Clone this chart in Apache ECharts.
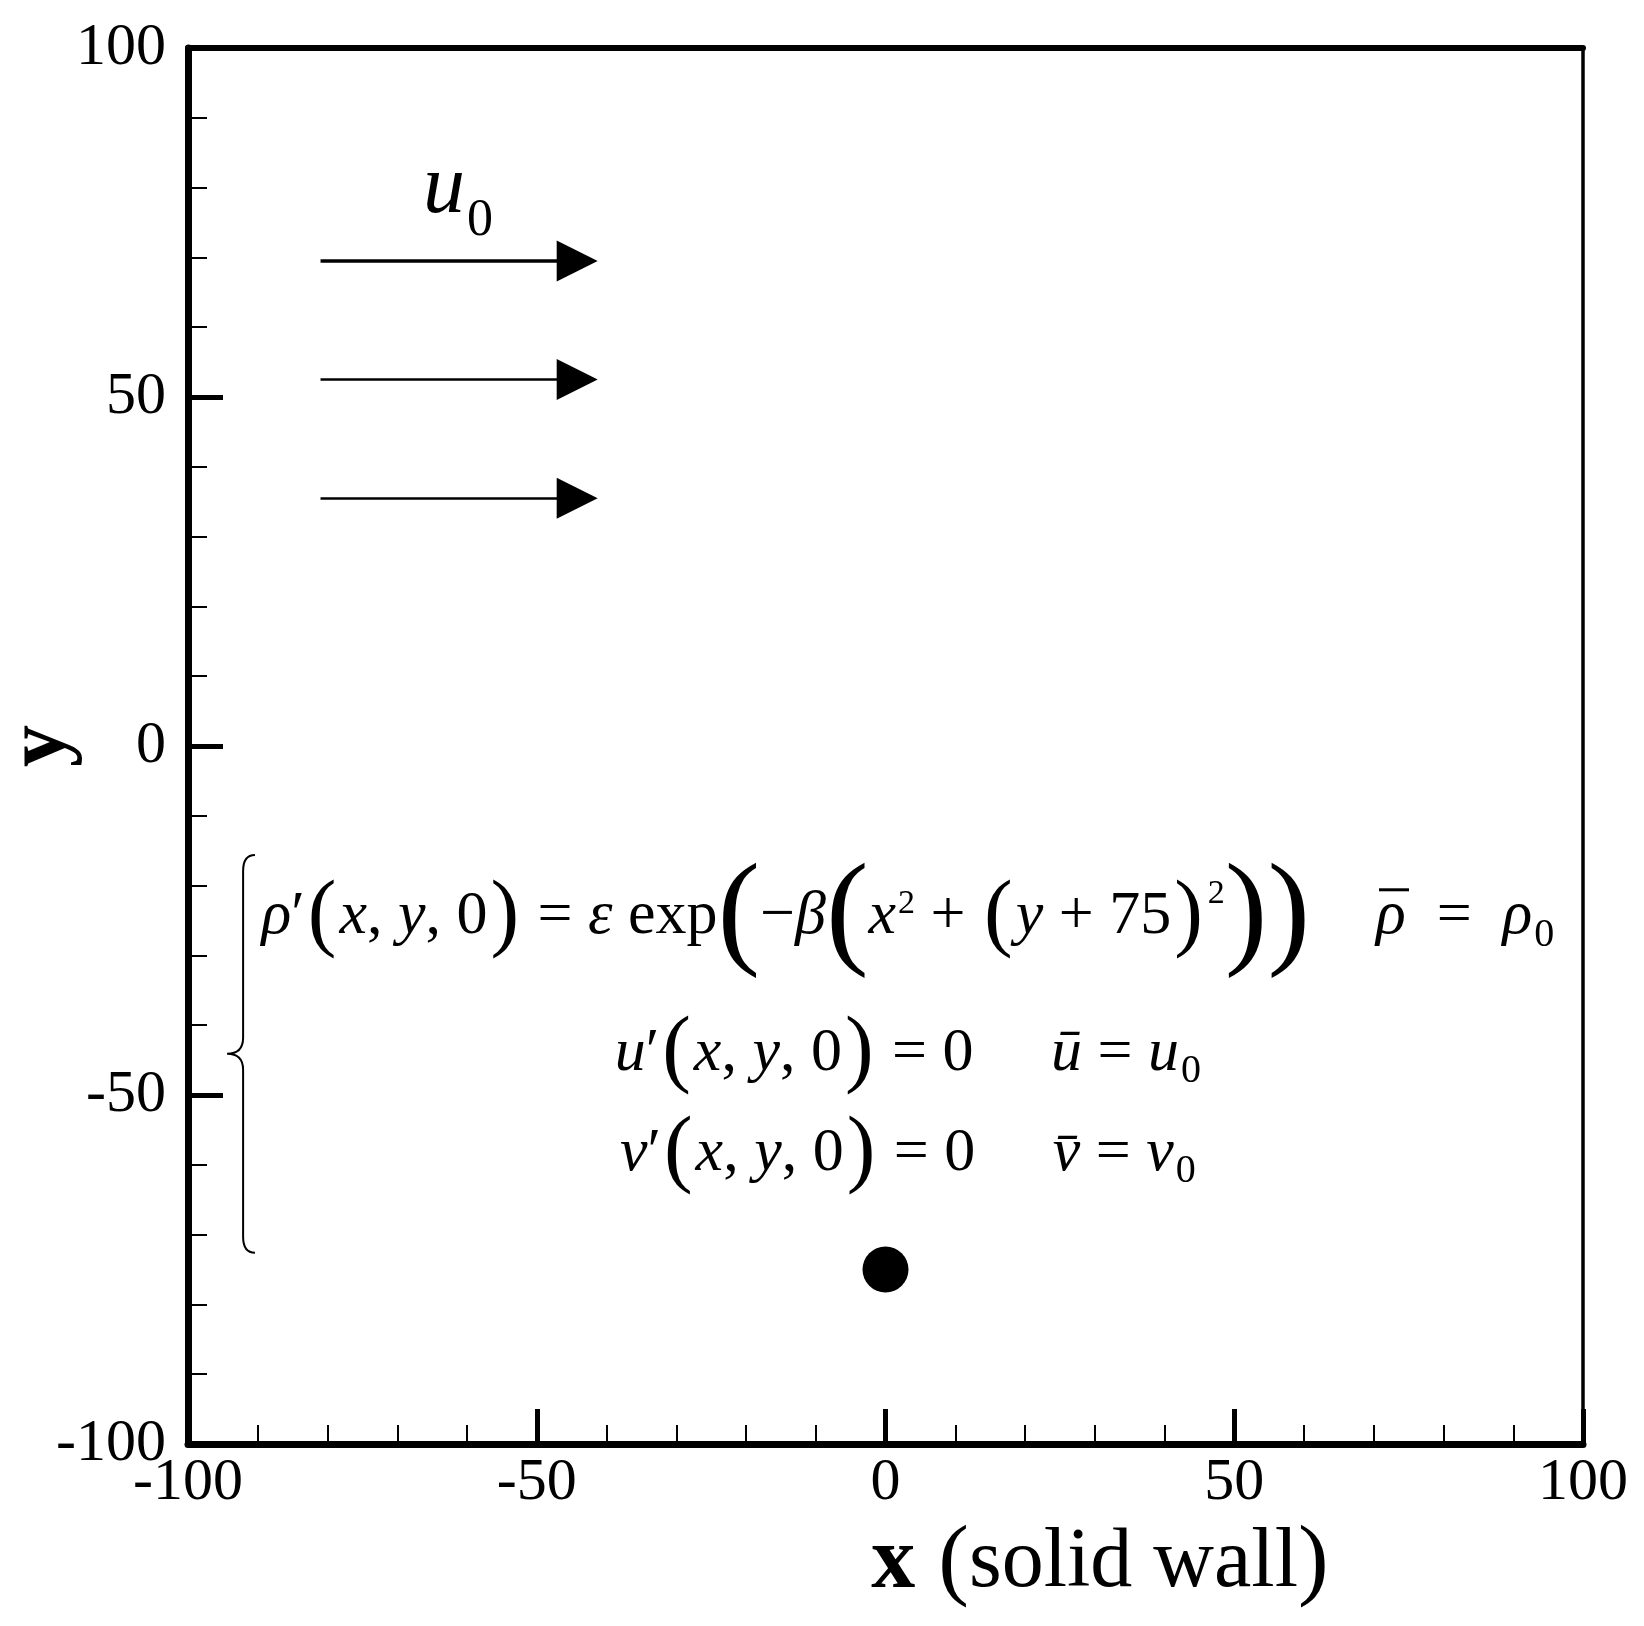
<!DOCTYPE html>
<html>
<head>
<meta charset="utf-8">
<title>Initial condition sketch</title>
<script src="https://cdn.jsdelivr.net/npm/echarts@6/dist/echarts.min.js"></script>
<style>
  html, body { margin: 0; padding: 0; background: #fff; }
  #chartsDiv { width: 1644px; height: 1626px; }
</style>
</head>
<body>
<div id="chartsDiv"></div>
<script>
// axis range
var axisMin = -100;
var axisMax = 100;
var majorStep = 50;
var minorSplit = 5;

// mean flow arrows: rows (y) and start / end (x)
var arrowRows = [69.5, 52.5, 35.5];
var arrowStartX = -81;
var arrowEndX = -44.2;

// pulse centre
var pulseCentre = [[0, -75]];

// brace: spine x, top y, bottom y, middle y, tip x, cusp x
var braceData = [[-92.1, -15.6, -72.6, -44.1, -90.4, -94.4]];

// text anchors (x, y) and their texts
var labelPoints = [
  [-61.3, 79.7],
  [-14.3, -24.5],
  [83.1, -24.5],
  [72.9, -20.6],
  [3.2, -44.1],
  [3.2, -58.4]
];
var labelTexts = [
  '{u|u}{s0|0}',
  '{i|\u03C1}{n|\u2032}{pa|(}{i|x}{n|, }{i|y}{n|, 0}{pa|)}{n| = }{i|\u03B5}{n| exp}{pb|(}{n|\u2212}{i|\u03B2}{pb|(}{i|x}{sa|2}{n| + }{pa|(}{i|y}{n| + 75}{pa|)}{sb|2}{pb|))}',
  '{i|\u03C1}{n|  =  }{i|\u03C1}{sub|0}',
  '{bar|}',
  '{i|u}{n|\u2032}{pa|(}{i|x}{n|, }{i|y}{n|, 0}{pa|)}{n| = 0     }{i|u\u0304}{n| = }{i|u}{sub|0}',
  '{i|v}{n|\u2032}{pa|(}{i|x}{n|, }{i|y}{n|, 0}{pa|)}{n| = 0     }{i|v\u0304}{n| = }{i|v}{sub|0}'
];

var serif = 'Liberation Serif';
var F = 62;

var richStyles = {
  i: { fontFamily: serif, fontStyle: 'italic', fontSize: F, color: '#000' },
  n: { fontFamily: serif, fontSize: F, color: '#000' },
  pa: { fontFamily: serif, fontSize: 86, color: '#000', padding: [0, 3, 0, 3] },
  pb: { fontFamily: serif, fontSize: 128, color: '#000' },
  sa: { fontFamily: serif, fontSize: 34, color: '#000', padding: [0, 0, 26, 2] },
  sb: { fontFamily: serif, fontSize: 34, color: '#000', padding: [0, 0, 46, 2] },
  sub: { fontFamily: serif, fontSize: 40, color: '#000', padding: [36, 0, 0, 2] },
  u: { fontFamily: serif, fontStyle: 'italic', fontSize: 84, color: '#000' },
  s0: { fontFamily: serif, fontSize: 52, color: '#000', padding: [64, 0, 0, 2] },
  bar: { width: 30, height: 3, backgroundColor: '#000' }
};

var chart = echarts.init(document.getElementById('chartsDiv'));

var option = {
  animation: false,
  backgroundColor: '#fff',
  textStyle: { fontFamily: serif, color: '#000' },
  grid: {
    left: 188,
    right: 61,
    top: 48,
    bottom: 182,
    outerBoundsMode: 'none'
  },
  xAxis: [{
    type: 'value',
    min: axisMin,
    max: axisMax,
    interval: majorStep,
    position: 'bottom',
    axisLine: { onZero: false, lineStyle: { color: '#000', width: 7 } },
    axisTick: { inside: true, length: 35, lineStyle: { color: '#000', width: 5 } },
    minorTick: { show: true, splitNumber: minorSplit, length: 19, lineStyle: { color: '#000', width: 2 } },
    splitLine: { show: false },
    axisLabel: {
      showMinLabel: true,
      showMaxLabel: true,
      fontFamily: serif,
      fontSize: 60,
      color: '#000',
      margin: 9
    },
    name: '{b|x} {p|(}{n|solid wall}{p|)}',
    nameLocation: 'middle',
    nameGap: 62,
    nameTextStyle: {
      padding: [0, 0, 0, 429],
      rich: {
        b: { fontFamily: serif, fontWeight: 'bold', fontSize: 88, color: '#000', padding: [0, 20, 0, 0] },
        n: { fontFamily: serif, fontSize: 84, color: '#000' },
        p: { fontFamily: serif, fontSize: 92, color: '#000' }
      }
    }
  }, {
    type: 'value',
    min: axisMin,
    max: axisMax,
    position: 'top',
    axisLine: { onZero: false, lineStyle: { color: '#000', width: 6 } },
    axisTick: { show: false },
    axisLabel: { show: false },
    splitLine: { show: false }
  }],
  yAxis: [{
    type: 'value',
    min: axisMin,
    max: axisMax,
    interval: majorStep,
    position: 'left',
    axisLine: { onZero: false, lineStyle: { color: '#000', width: 7 } },
    axisTick: { inside: true, length: 35, lineStyle: { color: '#000', width: 5 } },
    minorTick: { show: true, splitNumber: minorSplit, length: 19, lineStyle: { color: '#000', width: 2 } },
    splitLine: { show: false },
    axisLabel: {
      showMinLabel: true,
      showMaxLabel: true,
      fontFamily: serif,
      fontSize: 60,
      color: '#000',
      margin: 22
    },
    name: 'y',
    nameLocation: 'middle',
    nameGap: 104,
    nameMoveOverlap: false,
    nameTextStyle: { fontFamily: serif, fontWeight: 'bold', fontSize: 84, color: '#000' }
  }, {
    type: 'value',
    min: axisMin,
    max: axisMax,
    position: 'right',
    axisLine: { onZero: false, lineStyle: { color: '#000', width: 3.5 } },
    axisTick: { show: false },
    axisLabel: { show: false },
    splitLine: { show: false }
  }],
  series: [{
    // u0 arrows
    type: 'lines',
    coordinateSystem: 'cartesian2d',
    xAxisIndex: 0,
    yAxisIndex: 0,
    silent: true,
    symbol: ['none', 'triangle'],
    symbolSize: 41,
    lineStyle: { color: '#000', width: 2.5, opacity: 1, curveness: 0 },
    data: arrowRows.map(function (y, i) {
      return {
        coords: [[arrowStartX, y], [arrowEndX, y]],
        lineStyle: { width: i === 0 ? 3.5 : 2.5 }
      };
    })
  }, {
    // pulse location
    type: 'scatter',
    xAxisIndex: 0,
    yAxisIndex: 0,
    silent: true,
    symbol: 'circle',
    symbolSize: 46,
    itemStyle: { color: '#000', opacity: 1 },
    data: pulseCentre
  }, {
    // left brace of the initial conditions
    type: 'custom',
    xAxisIndex: 0,
    yAxisIndex: 0,
    silent: true,
    data: braceData,
    renderItem: function (params, api) {
      var top = api.coord([api.value(0), api.value(1)]);
      var bottom = api.coord([api.value(0), api.value(2)]);
      var cusp = api.coord([api.value(5), api.value(3)]);
      var tipX = api.coord([api.value(4), api.value(1)])[0];
      var sx = top[0];
      var r = 16;
      var d = [
        'M', tipX, top[1],
        'Q', sx, top[1], sx, top[1] + r,
        'L', sx, cusp[1] - r,
        'Q', sx, cusp[1], cusp[0], cusp[1],
        'Q', sx, cusp[1], sx, cusp[1] + r,
        'L', sx, bottom[1] - r,
        'Q', sx, bottom[1], tipX, bottom[1]
      ].join(' ');
      return {
        type: 'path',
        shape: { pathData: d },
        style: { fill: 'none', stroke: '#000', lineWidth: 2 }
      };
    }
  }, {
    // text annotations
    type: 'scatter',
    xAxisIndex: 0,
    yAxisIndex: 0,
    silent: true,
    symbolSize: 1,
    itemStyle: { color: 'rgba(0,0,0,0)', opacity: 1 },
    label: {
      show: true,
      position: 'inside',
      color: '#000',
      formatter: function (p) {
        return labelTexts[p.dataIndex];
      },
      rich: richStyles
    },
    emphasis: { disabled: true },
    data: labelPoints
  }]
};

chart.setOption(option);
</script>
</body>
</html>
